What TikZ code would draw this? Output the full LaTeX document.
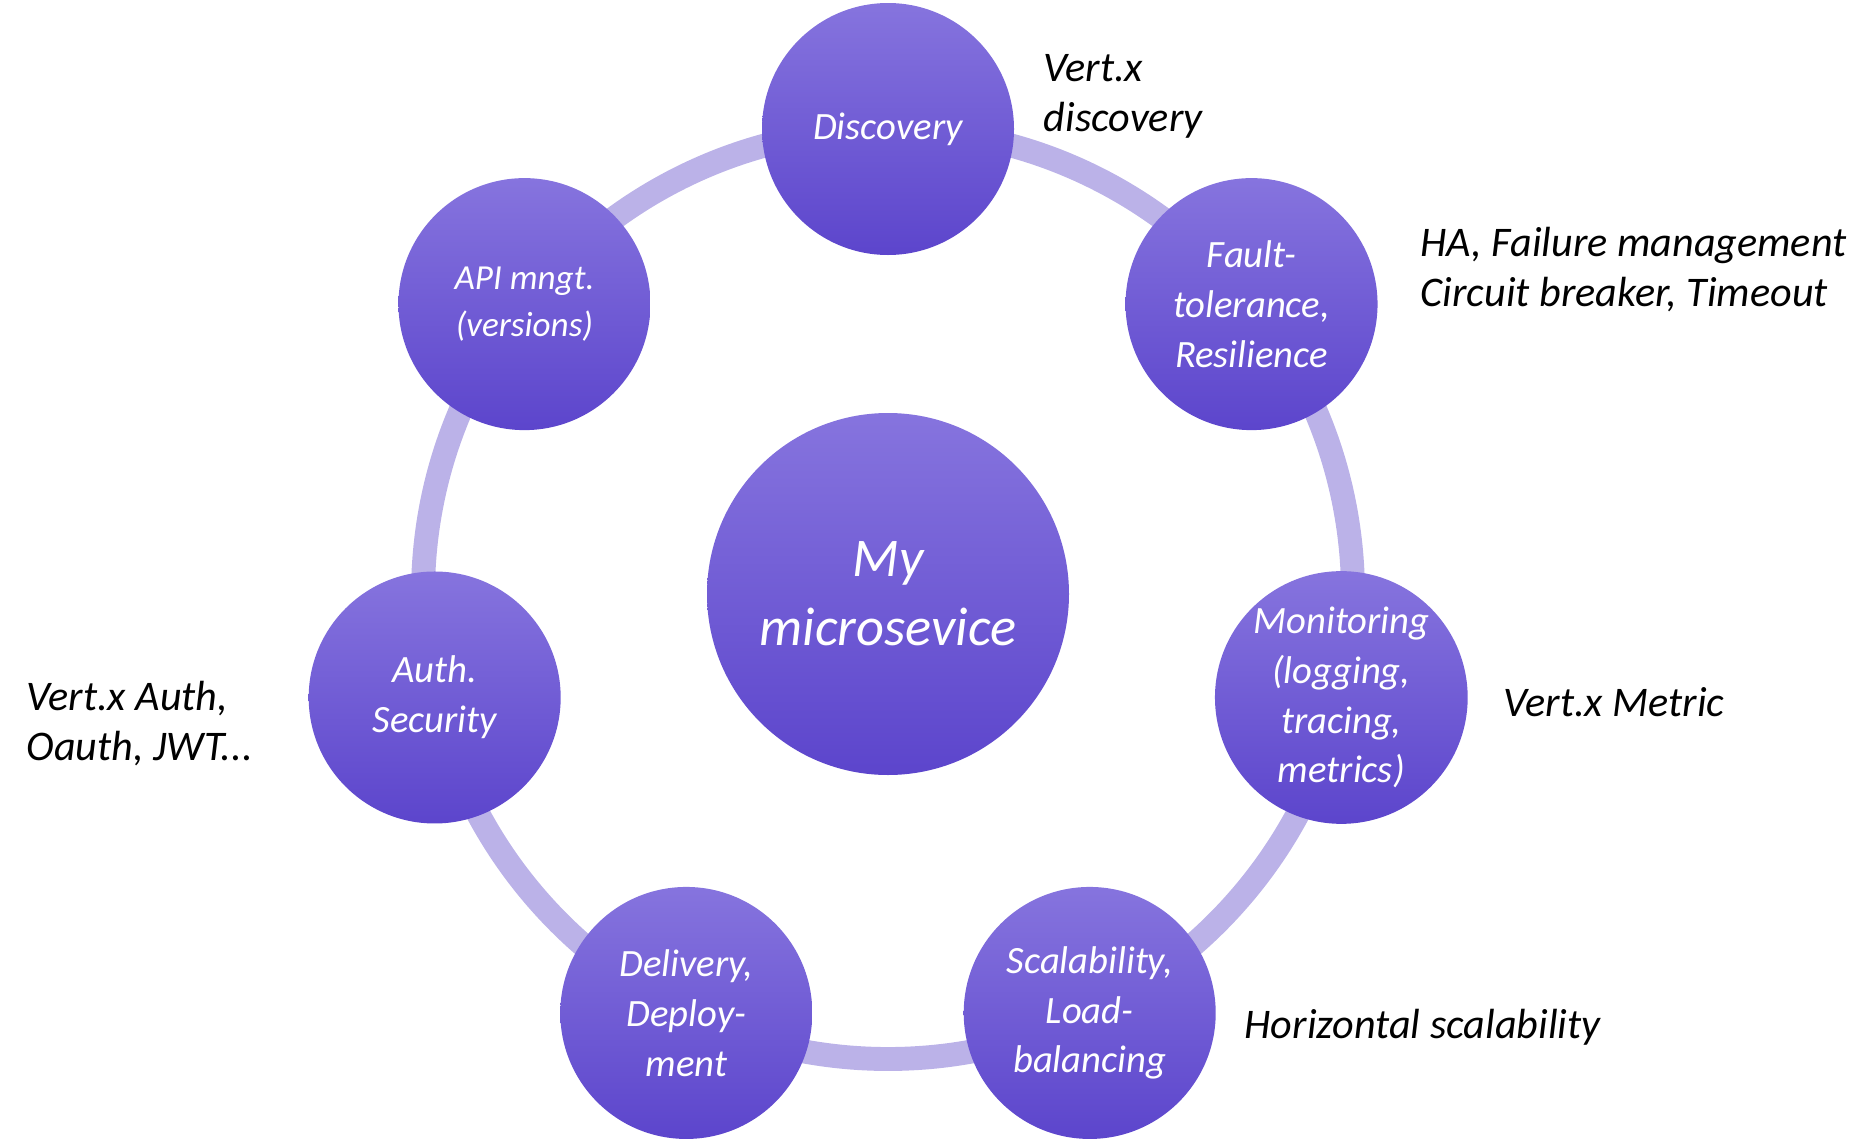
\documentclass[tikz,border=0pt]{standalone}
\usepackage{fontspec}
\setmainfont{Carlito}
\usepackage{xcolor}
\usepackage{tikz}
\usetikzlibrary{backgrounds}

\definecolor{ringlilac}{HTML}{BBB2E8}
\definecolor{bubbletop}{HTML}{8674DE}
\definecolor{bubblebot}{HTML}{5C45CC}

\tikzset{
  bubble/.style={circle, minimum size=2.52cm, inner sep=0pt, top color=bubbletop, bottom color=bubblebot,
    text=white, align=center, font=\itshape\fontsize{11}{14.2}\selectfont},
  hubbubble/.style={bubble, minimum size=3.62cm, font=\itshape\fontsize{15.5}{19.6}\selectfont},
  note/.style={anchor=west, inner sep=0pt, align=left, font=\itshape\fontsize{12}{14.2}\selectfont}
}

\begin{document}
\begin{tikzpicture}

    \useasboundingbox (0,0) rectangle (18.76,-11.43);

    \node[hubbubble] (hub) at (8.88,-5.94) {My\\microsevice};

    \begin{scope}[on background layer]
        \draw[ringlilac, line width=6.8pt] (hub.center) circle (4.65);
    \end{scope}


    \node[bubble] (disc) at ([shift={(90:4.65)}]hub.center) {Discovery};
    \node[bubble] (fault) at ([shift={(38.57:4.65)}]hub.center) {Fault-\\tolerance,\\Resilience};
    \node[bubble] (monit) at ([shift={(-12.86:4.65)}]hub.center) {Monitoring\\(logging,\\tracing,\\metrics)};
    \node[bubble] (scale) at ([shift={(-64.29:4.65)}]hub.center) {Scalability,\\Load-\\balancing};
    \node[bubble] (deliv) at ([shift={(-115.71:4.65)}]hub.center) {Delivery,\\Deploy-\\ment};
    \node[bubble] (auth) at ([shift={(192.86:4.65)}]hub.center) {Auth.\\Security};
    \node[bubble, font=\itshape\fontsize{10}{13.6}\selectfont] (api) at ([shift={(141.43:4.65)}]hub.center) {API mngt.\\(versions)};


    \node[note] (discnote) at (10.43,-0.96) {Vert.x\\discovery};
    \node[note] (faultnote) at (14.20,-2.70) {HA, Failure management\\Circuit breaker, Timeout};
    \node[note] (monitnote) at (15.03,-7.02) {Vert.x Metric};
    \node[note] (scalenote) at (12.44,-10.27) {Horizontal scalability};
    \node[note] (authnote) at (0.26,-7.24) {Vert.x Auth,\\Oauth, JWT...};
\end{tikzpicture}
\end{document}
